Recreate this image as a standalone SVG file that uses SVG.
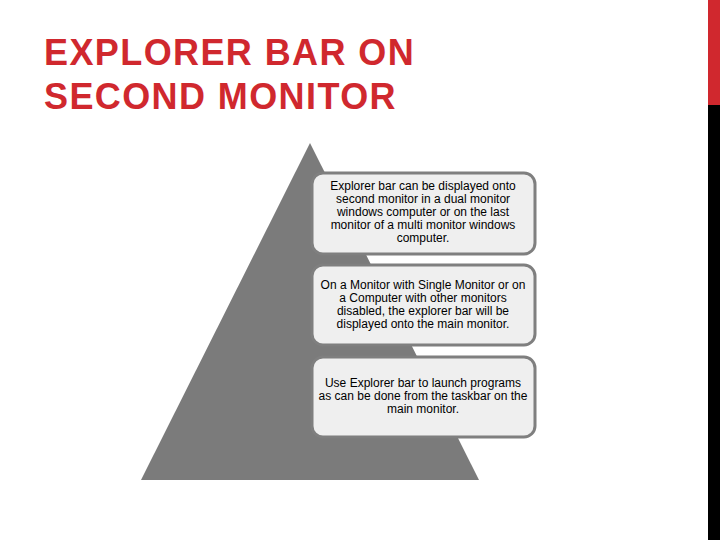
<svg xmlns="http://www.w3.org/2000/svg" width="720" height="540" viewBox="0 0 720 540">
<style>
.title{font-family:"Liberation Sans",Arial,sans-serif;font-weight:bold;font-size:36px;fill:#d0282e;letter-spacing:1.4px}
.box{fill:#efefef;stroke:#7f7f7f;stroke-width:3}
.t{font-family:"Liberation Sans",Arial,sans-serif;font-size:12px;fill:#000;text-anchor:middle}
</style>
<rect x="0" y="0" width="720" height="540" fill="#ffffff"/>
<rect x="708" y="0" width="12" height="105" fill="#d0282e"/>
<rect x="708" y="105" width="12" height="435" fill="#000000"/>
<g id="title">
<text class="title" x="44" y="65">EXPLORER BAR ON</text>
<text class="title" x="44" y="109">SECOND MONITOR</text>
</g>
<g id="pyramid">
<polygon points="310,143 141,480 479,480" fill="#7b7b7b"/>
</g>
<g id="box1">
<rect class="box" x="312" y="173" width="223" height="81" rx="11"/>
<text class="t" x="423" y="190">Explorer bar can be displayed onto</text>
<text class="t" x="423" y="203">second monitor in a dual monitor</text>
<text class="t" x="423" y="216">windows computer or on the last</text>
<text class="t" x="423" y="229">monitor of a multi monitor windows</text>
<text class="t" x="423" y="242">computer.</text>
</g>
<g id="box2">
<rect class="box" x="312" y="265" width="223" height="80" rx="11"/>
<text class="t" x="423" y="289">On a Monitor with Single Monitor or on</text>
<text class="t" x="423" y="302">a Computer with other monitors</text>
<text class="t" x="423" y="315">disabled, the explorer bar will be</text>
<text class="t" x="423" y="328">displayed onto the main monitor.</text>
</g>
<g id="box3">
<rect class="box" x="312" y="357" width="223" height="80" rx="11"/>
<text class="t" x="423" y="387">Use Explorer bar to launch programs</text>
<text class="t" x="423" y="400">as can be done from the taskbar on the</text>
<text class="t" x="423" y="413">main monitor.</text>
</g>
<g id="connectors"></g>
</svg>
